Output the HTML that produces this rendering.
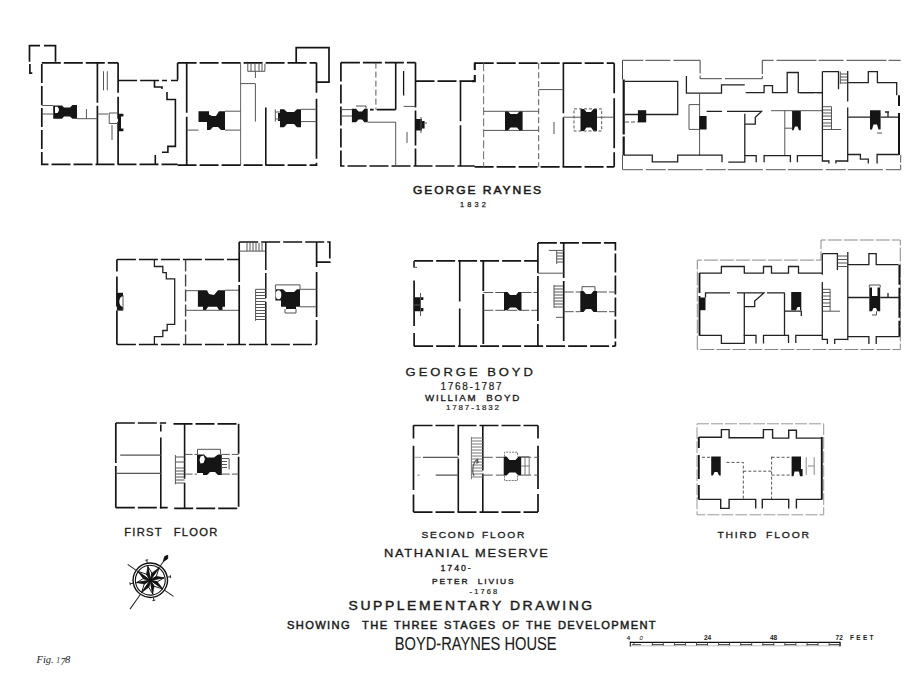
<!DOCTYPE html>
<html><head><meta charset="utf-8">
<style>
html,body{margin:0;padding:0;background:#fff;width:924px;height:685px;overflow:hidden}
svg{display:block}
text{font-family:"Liberation Sans",sans-serif;fill:#1a1a1a}
.w{stroke:#151515;stroke-width:1.7;fill:none;stroke-dasharray:19 3}
.ws{stroke:#151515;stroke-width:1.7;fill:none}
.t{stroke:#555;stroke-width:1;fill:none}
.td{stroke:#555;stroke-width:1;fill:none;stroke-dasharray:6 3}
.c{fill:#151515;stroke:none}
.th{stroke:#222;stroke-width:1.3;fill:none}
.thd{stroke:#444;stroke-width:1;fill:none;stroke-dasharray:8 2}
</style></head>
<body>
<svg width="924" height="685" viewBox="0 0 924 685">
<g id="texts">
<text x="413" y="193.6" font-size="11.2" letter-spacing="1.8" textLength="130.1" lengthAdjust="spacingAndGlyphs" style="stroke:#1a1a1a;stroke-width:0.5">GEORGE RAYNES</text>
<text x="460" y="206.6" font-size="7.4" letter-spacing="2.6" textLength="28.5" lengthAdjust="spacing" style="stroke:#1a1a1a;stroke-width:0.25">1832</text>
<text x="405.6" y="375.7" font-size="11.3" letter-spacing="2.6" textLength="130.3" lengthAdjust="spacingAndGlyphs" style="stroke:#1a1a1a;stroke-width:0.28">GEORGE BOYD</text>
<text x="440.6" y="390" font-size="10" letter-spacing="2" textLength="63" lengthAdjust="spacing" style="stroke:#1a1a1a;stroke-width:0.2">1768-1787</text>
<text x="425" y="401.3" font-size="8.2" letter-spacing="1.5" xml:space="preserve" textLength="96" lengthAdjust="spacingAndGlyphs" style="stroke:#1a1a1a;stroke-width:0.3">WILLIAM  BOYD</text>
<text x="446" y="410.2" font-size="8" letter-spacing="2" textLength="55" lengthAdjust="spacing" style="stroke:#1a1a1a;stroke-width:0.2">1787-1832</text>
<text x="124.2" y="535.6" font-size="10.5" letter-spacing="1.2" word-spacing="1" xml:space="preserve" textLength="94.5" lengthAdjust="spacingAndGlyphs" style="stroke:#1a1a1a;stroke-width:0.3">FIRST  FLOOR</text>
<text x="421.5" y="537.7" font-size="9.2" letter-spacing="1.6" word-spacing="1.5" xml:space="preserve" textLength="104.6" lengthAdjust="spacingAndGlyphs" style="stroke:#1a1a1a;stroke-width:0.3">SECOND FLOOR</text>
<text x="717.4" y="538.3" font-size="9.3" letter-spacing="1.6" word-spacing="3" xml:space="preserve" textLength="93.5" lengthAdjust="spacingAndGlyphs" style="stroke:#1a1a1a;stroke-width:0.3">THIRD FLOOR</text>
<text x="384" y="557" font-size="10.8" letter-spacing="1.4" textLength="165.5" lengthAdjust="spacingAndGlyphs" style="stroke:#1a1a1a;stroke-width:0.28">NATHANIAL MESERVE</text>
<text x="440.6" y="570.8" font-size="8.8" letter-spacing="2.5" textLength="32.5" lengthAdjust="spacing" style="stroke:#1a1a1a;stroke-width:0.35">1740-</text>
<text x="432" y="583.6" font-size="7.3" letter-spacing="1.6" xml:space="preserve" textLength="83.5" lengthAdjust="spacingAndGlyphs" style="stroke:#1a1a1a;stroke-width:0.33">PETER  LIVIUS</text>
<text x="469.6" y="594.1" font-size="7.5" letter-spacing="2" textLength="29.5" lengthAdjust="spacing" style="stroke:#1a1a1a;stroke-width:0.2">-1768</text>
<text x="348.6" y="609.7" font-size="11.9" letter-spacing="2.2" textLength="246.1" lengthAdjust="spacingAndGlyphs" style="stroke:#1a1a1a;stroke-width:0.38">SUPPLEMENTARY DRAWING</text>
<text x="287" y="628.9" font-size="10.8" letter-spacing="1.3" word-spacing="1.2" xml:space="preserve" textLength="370" lengthAdjust="spacingAndGlyphs" style="stroke:#1a1a1a;stroke-width:0.45">SHOWING  THE THREE STAGES OF THE DEVELOPMENT</text>
<text x="394.8" y="649.5" font-size="17.5" textLength="161.7" lengthAdjust="spacingAndGlyphs" style="stroke:#111;stroke-width:0.1">BOYD-RAYNES HOUSE</text>
<text x="36.5" y="663" font-size="10.5" style="font-family:'Liberation Serif',serif;font-style:italic;fill:#222">Fig. <tspan font-size="7.5">1</tspan><tspan font-size="10" dy="2.2" dx="0.3">7</tspan><tspan dy="-2.2" dx="-0.3">8</tspan></text>
<text x="626.8" y="640" font-size="6" font-weight="bold">4</text>
<text x="639.4" y="640" font-size="6" font-style="italic">0</text>
<text x="704" y="640" font-size="6.5" font-weight="bold">24</text>
<text x="770" y="640" font-size="6.5" font-weight="bold">48</text>
<text x="835.6" y="640.2" font-size="6.5" font-weight="bold">72</text>
<text x="850" y="640.2" font-size="6.5" font-weight="bold" textLength="23.6" lengthAdjust="spacing">FEET</text>
</g>
<g id="scalebar">
<line x1="630" y1="642.4" x2="840" y2="642.4" stroke="#111" stroke-width="1.1"/>
<line x1="630" y1="645.8" x2="840" y2="645.8" stroke="#bbb" stroke-width="0.9"/>
<line x1="630.3" y1="641.8" x2="630.3" y2="646.5" stroke="#111" stroke-width="1.1"/>
<line x1="840" y1="641.8" x2="840" y2="646.5" stroke="#111" stroke-width="1.1"/>
<path d="M652.3 644.6H663.3M652.3 642V645.5M663.3 642V645.5M674.4 644.6H685.4M674.4 642V645.5M685.4 642V645.5M696.5 644.6H707.5M696.5 642V645.5M707.5 642V645.5M718.6 644.6H729.6M718.6 642V645.5M729.6 642V645.5M740.7 644.6H751.7M740.7 642V645.5M751.7 642V645.5M762.8 644.6H773.8M762.8 642V645.5M773.8 642V645.5M784.9 644.6H795.9M784.9 642V645.5M795.9 642V645.5M807.0 644.6H818.0M807.0 642V645.5M818.0 642V645.5M829.1 644.6H840.1M829.1 642V645.5M840.1 642V645.5" stroke="#333" stroke-width="0.9" fill="none"/>
<path d="M632 644.6H641M634 643V645" stroke="#444" stroke-width="0.9" fill="none"/>
</g>
<g id="plans">
<g id="p9">
<path class="td" d="M697 423.8H823.7V514.8H697V423.8" style="stroke-dasharray:12 2;stroke:#999"/>
<path class="ws" d="M698.8 436.9V448M698.8 455V479M698.8 485V499.4" style="stroke-width:1.9"/>
<path class="ws" d="M821.8 436.9V499.7" style="stroke-width:1.9"/>
<path class="th" d="M698.8 437.2H721.4V429.6H729.1V437.8H763.4V429.6H772.6V438.1H788.7V430.3H796.4V438.1H821.8" style="stroke-width:1.4"/>
<path class="th" d="M698.8 499.4H720.7V508.4H729.1V499.4H755.7V508.4M762.3 508.4V499.4H788.7V508.4M796.4 508.4V499.4H821.8" style="stroke-width:1.4"/>
<path class="c" d="M711.2 456.6H720.7V475.6H719L717.5 472H714.5L713 475.6H711.2Z"/>
<path class="c" d="M791.6 456.6H801V469H802.6V476.3H800L799 471.5H794.5L793.5 476.3H791.6Z"/>
<path class="t" d="M702 457.3H711M726.5 462.4H743.3V499M743.3 471.2H771.6M771.6 456.6V499M771.6 457.3H791.6M771.6 475.1H791.6" style="stroke-dasharray:3 2;stroke:#555"/>
<path class="t" d="M806.2 457.3V475M814.2 457.3V475M808 466H814" style="stroke:#888"/>
</g>
<g id="p8">
<path class="w" d="M413.5 425.5H538M413.5 512.1H538"/>
<path class="ws" d="M413.5 425.2V438.4M413.5 445.7V490M413.5 494.6V512.1"/>
<path class="ws" d="M538 425.5V438.4M538 445.7V489M538 494V512.1"/>
<path class="ws" d="M458.3 425.5V512.1" style="stroke-width:1.6;stroke-dasharray:30 3 60"/>
<path class="ws" d="M482.8 425.5V512.1" style="stroke-width:1.6;stroke-dasharray:45 3 50"/>
<path class="t" d="M423 457.3H458.3M435.7 475.1H458.3" style="stroke-width:1.2"/>
<path class="t" d="M415 457.3H421M417 475.1H420" style="stroke:#999"/>
<path class="t" d="M471.4 436.9V479.2M471.4 438H482.8M471.4 441H482.8M471.4 444H482.8M471.4 447H482.8M471.4 450H482.8M471.4 453H482.8M471.4 456H482.8M471.4 459H482.8M471.4 462H482.8M471.4 465H482.8M471.4 468H482.8M471.4 471H482.8M471.4 474H482.8M471.4 477H482.8" style="stroke:#777"/>
<path class="t" d="M478 459Q474 461 473 467Q472 472 474 476M478 459L477 463L479 462" style="stroke-width:1.2"/>
<path class="t" d="M482.8 457.3H503.7M521.2 457.3H538M482.8 475.1H503.7M521.2 475.1H538" style="stroke-dasharray:10 3"/>
<path class="c" d="M503.7 456.6H506.5L509.5 460H515.5L518.5 456.6H521.2V475.6H518.5L515.5 472.5H509.5L506.5 475.6H503.7Z"/>
<path class="t" d="M504.5 456.6V452.2H517.5V456.6M504.5 475.6V480.5H517.5V475.6" style="stroke:#777;stroke-dasharray:2 1"/>
<path class="t" d="M521.2 456.6H529.2V475.1M525 457V475M521.2 466H529.2" style="stroke:#777"/>
</g>
<g id="p7">
<path class="w" d="M115.8 423H166.2M173.5 423.8H238.6M115.8 507.7H167.7M174.2 508.4H238.6"/>
<path class="ws" d="M115.8 423V507.7" style="stroke-dasharray:40 3 60"/>
<path class="ws" d="M160.8 424.5V431.5M160.8 437.5V508.4" style="stroke-width:1.6"/>
<path class="ws" d="M184.6 423.8V508.4" style="stroke-width:1.6;stroke-dasharray:55 4 40"/>
<path class="ws" d="M238.6 423.8V508.4" style="stroke-dasharray:30 3 50"/>
<path class="t" d="M120.2 455.1H160.8M115.8 473.4H160.8" style="stroke-width:1.2"/>
<path class="t" d="M175.4 455V484.3M175.4 457H184.6M175.4 462H184.6M175.4 468H184.6M175.4 471H184.6M175.4 474H184.6M175.4 477H184.6M175.4 480H184.6M175.4 483H184.6"/>
<path class="t" d="M184.6 454.4H197M221.8 454.4H238.6M184.6 474.1H197M221.8 474.1H238.6" style="stroke-dasharray:8 2"/>
<path class="c" d="M197 454.4H204L207 457.5H214L218 454.4H221.8V474.9H218L215 472H210L207 474.9H203V473H197Z"/>
<path d="M200.5 456.5L203.5 455.5L205 459L203.5 463L200.5 463.5L199.5 460Z" fill="#fff"/>
<path class="t" d="M197.5 454.4V449.3H220.5V454.4M221.8 458.5H229.1V469.5M221.8 461.5H227M221.8 464.5H227M221.8 467.5H227"/>
</g>
<g id="p6">
<path class="td" d="M697.3 349.5V260.1H821V240H900.3V349.5H697.3" style="stroke-dasharray:14 2;stroke:#888"/>
<path class="ws" d="M699.5 272.9V335.8" style="stroke-width:1.8;stroke-dasharray:20 3 40"/>
<path class="th" d="M699.5 273.2H721.4V266.5H744.3V273.2H763.5V266.5H771.5V273.2H788.5V266.5H798.5V273.2H822.3"/>
<path class="th" d="M705.5 297.5V292.9H730M737 292.9H763.9L754.7 301.1V306.6H744.7M767 292.9H784.8"/>
<path class="c" d="M699.5 297.5H705.5V310.2H699.5Z"/>
<path class="th" d="M744.3 292.9V335.8M784.5 292.9V335.8M784.5 311.2H801.3V316"/>
<path class="c" d="M791.2 292H801.3V310.2H800V307H797.5L796 310.2H791.2Z"/>
<path class="th" d="M699.5 335.4H721.4V343.4H744.3V335.4H756V343.4M763.5 343.4V335.4H788.5V343M795.8 343V335.4H822.3"/>
<path class="th" d="M822.3 253.7V274.7M822.3 282V339.4H827.4V344M834.7 344V339.4H847.8"/>
<path class="th" d="M822.3 253.7H837.4V270.1M847.8 251.9V340.3"/>
<path class="t" d="M837.4 256H847.4M837.4 259.5H847.4M837.4 263H847.4M837.4 266.5H847.4"/>
<path class="t" d="M822.8 289.3H830.1V311.2M822.8 311.2H840M822.8 292.5H830.1M822.8 296H830.1M822.8 299.5H830.1M822.8 303H830.1M822.8 306.5H830.1"/>
<path class="th" d="M847.8 264.7H868.9V253.7H876.2V264.7H898.5"/>
<path class="ws" d="M899.4 264.7V336.7" style="stroke-width:1.9;stroke-dasharray:20 3 30 3 50"/>
<path class="c" d="M869.3 287.5H872V296H877.5V287.5H880.2V311.2H877.5L876 308H873.5L872 311.2H869.3Z"/>
<path class="t" d="M869.3 287.5V285H880.2V287.5M876.5 311.2V315H872"/>
<path class="th" d="M847.8 297.5H869.3M880.2 297.5H899.4M888 293V297.5"/>
<path class="th" d="M847.8 336.7H868.9V344M876.2 344V336.7H899.4"/>
</g>
<g id="p5">
<path class="w" d="M414.1 260.9H537.9M414.1 346.2H615.4"/>
<path class="ws" d="M414.1 260.9V267.4M414.1 280.5V326M414.1 333V346.2"/>
<path class="t" d="M414.1 260.9V267.4H417" />
<path class="ws" d="M459.7 260.9V301.5M459.7 308.5V346.2" style="stroke-width:1.6"/>
<path class="ws" d="M483.3 260.9V346.2" style="stroke-width:1.8;stroke-dasharray:30 3 50"/>
<path class="t" d="M483.3 292.5H504M521.5 292.5H537.9M483.3 310.3H537.9" style="stroke-dasharray:10 2"/>
<path class="c" d="M504 292H507.5L510 295H516L518.5 292H521.5V310.3H518.5L516 307.5H510L507.5 310.3H504Z"/>
<path class="c" d="M414.1 297.2H423.4V300H420V308H423.4V311.2H414.1Z"/>
<path class="t" d="M420.5 293V316M414.1 305H421"/>
<path class="ws" d="M537.9 242.9V346.2" style="stroke-dasharray:30 3 45 3 40"/>
<path class="w" d="M537.9 242.9H615.4V346.2"/>
<path class="ws" d="M563.7 242.9V346.2" style="stroke-width:1.7;stroke-dasharray:35 3 60"/>
<path class="t" d="M537.9 273.2H563.7M548.8 250.4H563.7M556.7 250.4V263.9M556.7 253H563M556.7 256H563M556.7 259H563M556.7 262H563"/>
<path class="t" d="M554 285V307.7M554 286H562.8M554 289H562.8M554 292H562.8M554 295H562.8M554 298H562.8M554 301H562.8M554 304H562.8M554 307H562.8M556 317.3H562.8"/>
<path class="t" d="M563.7 292H580.3M597 292H615.4M563.7 311.7H580.3M597 311.7H615.4" style="stroke-dasharray:10 2"/>
<path class="c" d="M580.3 291H583.5L586 294H591L593.5 291H597V312.1H593.5L591 309H586L583.5 312.1H580.3Z"/>
<path class="t" d="M582 291V286.7H595V291"/>
</g>
<g id="p4">
<path class="w" d="M116.9 259.5H239.2M116.9 344.5H316.6"/>
<path class="ws" d="M116.9 259.5V344.5" style="stroke-dasharray:12 5 30 4 40"/>
<path class="th" d="M154.4 259.5V266.5H162.8V272.7H166.3V278.8H174.7V324.3H167.2V330.5H162.8V336.6H154.4V344.5"/>
<path class="td" d="M185.6 259.5V344.5" style="stroke-width:1.4;stroke:#444;stroke-dasharray:12 3"/>
<path class="c" d="M116.9 292.8H123V310.3H116.9Z"/>
<ellipse cx="123.5" cy="301.5" rx="4.2" ry="5.5" fill="#fff"/>
<path class="t" d="M123 295V310.3M116.9 310.3H123"/>
<path class="c" d="M197.9 290.2H207L209 294L214 295L218 290.2H225V306.8H222.5V310H219L217 306.8H208L206 310H203V306.8H197.9Z"/>
<path class="t" d="M185.6 290.7H197.9M185.6 310.3H239.2M225 290.2H239.2"/>
<path class="ws" d="M239.2 242V344.5" style="stroke-dasharray:40 3 60"/>
<path class="w" d="M239.2 242H329.8V262.2H316.6"/>
<path class="ws" d="M316.6 242V344.5" style="stroke-dasharray:25 5 45 3 40"/>
<path class="t" d="M239.2 251.1H265.8M247 243V251M250 243V251M253 243V251M256 243V251M259 243V251M262 243V251"/>
<path class="ws" d="M265.8 242V344.5" style="stroke-width:1.5;stroke-dasharray:28 3 25 4 45"/>
<path class="t" d="M255.6 289.3V320.8M255.6 289.3H265.8M255.6 292.5H265.8M255.6 295.5H265.8M255.6 298.5H265.8M255.6 301.5H265.8M255.6 304.5H265.8M255.6 307.5H265.8M255.6 310.5H265.8M255.6 313.5H265.8M255.6 316.5H265.8M255.6 319.5H265.8"/>
<path class="c" d="M275.4 289.3H283L286 292H294L297 289.3H300V306.8H296V309H286V306.8H281V300.5H275.4Z"/>
<ellipse cx="278.5" cy="294.8" rx="2.8" ry="4.5" fill="#fff"/>
<path class="t" d="M275.4 289.3V284.9H300V289.3M300 289.3H316.6M300 306.8H316.6M285 309V313H296V309"/>
</g>
<g id="p3">
<path d="M622.5 79.5V60.3H700.1V78.7H762.3V60.3H900.7" style="fill:none;stroke:#444;stroke-width:1;stroke-dasharray:40 2 25 3"/>
<path d="M622.5 155V169.7H900.7V155" style="fill:none;stroke:#555;stroke-width:1;stroke-dasharray:35 3 20 2"/>
<path class="ws" d="M623.7 79.5V155.2" style="stroke-width:2.2;stroke-dasharray:55 2 70"/>
<path class="th" d="M625 81.3H677.7V114.5H625"/>
<path class="c" d="M637.9 110.2H646.2V122.4H637.9Z"/>
<path class="t" d="M625 122H637.9" style="stroke-dasharray:4 2"/>
<path class="th" d="M686.4 76V93.2H721.5V84.8H744.8M745.7 92.7H764.1V85.7H772.5V92.7H787.2V72.5H798.3V92.7H822.4"/>
<path class="t" d="M699.6 93.2V155.7"/>
<path class="t" d="M689 104.6H699.6M689 104.6V129.4H699.6"/>
<path class="c" d="M699.3 116H706.6V129.5H699.3Z"/>
<path class="th" d="M706.6 111.4H722M727 111.4H761.5L755.3 117.2V124.2H744.8V113.7M744.8 124.2V155.7"/>
<path class="t" d="M771.1 110.7H822.4M784.8 110.7V155.7M784.8 128.2H792.1"/>
<path class="c" d="M792.1 111H800.8V130.3H799L797.5 126.5H795L793.5 130.3H792.1Z"/>
<path class="th" d="M623.7 155.2H652.3V161.8H677.7V155.2H722V162.2M728.2 162.2H744.8V155.7H756.2V162.2M764.1 162.2V155.7H790.4V162.2M797.4 162.2V155.7H822.4"/>
<path class="th" d="M822.4 71.6V161H828.9V163.6M835.9 163.6V161H847.3"/>
<path class="th" d="M822.4 71.6H838.5V89.2M847.7 71.1V101.4M847.7 107.6V161.9"/>
<path class="t" d="M840.3 71.6V83.9M847.3 74H840.3M847.3 77H840.3M847.3 80H840.3M847.3 83H840.3"/>
<path class="th" d="M800 92.7H822.4" style="stroke-dasharray:14 3"/>
<path class="t" d="M822.8 106.7H831.5V129.5M822.8 129.5H841.2M822.8 110H831.5M822.8 113H831.5M822.8 116H831.5M822.8 119.5H831.5M822.8 123H831.5M822.8 126H831.5"/>
<path class="th" d="M848.2 82.7H868.3V71.6H877.4V82.7H896.7V95.3"/>
<path class="ws" d="M899 95.3V106M899 113V154.9" style="stroke-width:2"/>
<path class="c" d="M870 110.2H880.6V129.5H878.5L877 124.5H873.5L872 129.5H870Z"/>
<path class="th" d="M848.2 117.2H870M880.6 117.2H898.1M888 112V117M885 112H889"/>
<path class="th" d="M847.7 154.5H860.4V159.2H868.3V163.6M877.1 163.6V154.5H899"/>
<path class="t" d="M877 133H882"/>
</g>
<g id="p2">
<path class="w" d="M340.9 62.6H415.5"/>
<path class="w" d="M340.9 62.6V166H474.7"/>
<path class="ws" d="M395.7 62.6V109.6" style="stroke-width:1.6"/>
<path class="td" d="M375.9 62.6V109.6"/>
<path class="w" d="M395.7 109.6H370" style="stroke-width:1.6"/>
<path class="ws" d="M415.5 62.6V166" style="stroke-dasharray:45 3 35 3 30"/>
<path class="w" d="M415.5 81.2H474.7"/>
<path class="ws" d="M460.5 81.2V166" style="stroke-width:1.6;stroke-dasharray:40 4 50"/>
<path class="ws" d="M474.8 62.6V70M474.8 75V81.2H472" style="stroke-width:2.1"/>
<path class="c" d="M351.9 108.7H356L358.5 111.5H362L364.5 108.7H367.7V122.2H364.5L362 119.5H358.5L356 122.2H351.9Z"/>
<path class="t" d="M340.9 116H352M367.7 122.2H395.7M340.9 109.6H352M356 106H366V108.7"/>
<path class="t" d="M395.7 122.2V166" style="stroke:#555"/>
<path class="ws" d="M403.6 71V95.5" style="stroke-width:1.3"/>
<path class="t" d="M403.6 106.4H415.5M407 132V143"/>
<path class="c" d="M415.9 119H422V121H424.6V128.5H422V130.6H415.9Z"/>
<path class="t" d="M421 117V133M424.6 123H427"/>
<path class="w" d="M474.7 63.2H614.2"/>
<path class="w" d="M474.6 166.8H614.2"/>
<path class="td" d="M483.6 63.2V166.8" style="stroke:#777;stroke-width:1.1;stroke-dasharray:8 3"/>
<path class="td" d="M538.7 63.2V166.8"/>
<path class="ws" d="M563.4 63.2V166.8" style="stroke-width:1.6;stroke-dasharray:50 4 60"/>
<path class="ws" d="M614.2 63.2V166.8" style="stroke-dasharray:30 5 50 4 30"/>
<path class="t" d="M483.6 111.3H538.7M483.6 130.4H538.7M538.7 89.6H563.4M563.4 117.2H614.2"/>
<path class="c" d="M505 111.6H508L510.5 114H517L519.5 111.6H522.6V130.4H519.5L517 127.5H510.5L508 130.4H505Z"/>
<path class="c" d="M580.5 108.9H584L586.5 112H591L593.5 108.9H597V131H593.5L591 127.5H586.5L584 131H580.5Z"/>
<path class="td" d="M574 108.9H601.7V131H574Z" style="stroke-dasharray:3 2"/>
<path class="t" d="M554 122V134"/>
</g>
<g id="p1">
<!-- appendage -->
<path class="ws" d="M29.5 61.8V45.7H40M44 45.7H55.5V61.8"/>
<path class="ws" d="M29.9 64V73.2H32.3"/>
<!-- main left block -->
<path class="w" d="M41.8 62.8H118.1"/>
<path class="w" d="M41.8 64V164.3H177.6"/>
<path class="ws" d="M97.4 62.8V164.3" style="stroke-dasharray:40 3 60 3"/>
<path class="ws" d="M118.1 62.8V164.3" style="stroke-dasharray:30 4 22 3 50"/>
<path class="t" d="M103.5 71.3V90.3M107.3 71.3V90.3"/>
<path class="w" d="M118.1 80.5H167M171 80.5H178"/>
<path class="ws" d="M154.5 80.5V87H162V89M167 91.9V99.5H175.4V146.4H167.9V152.3H162M155.3 155V165" style="stroke-width:1.6"/>
<path class="c" d="M53.2 105.5H62L64 107.5H70L72.5 105H77V118.7H72.5L70 116.5H64L62 118.7H53.2Z"/>
<path d="M55 106.8H57.5Q60.5 109.5 57.5 113H55Z" fill="#fff"/>
<path class="t" d="M41.8 105.5H53.2M41.8 114H53.2M77 118.7H97.4M86.4 109V118.7M97.4 114H108"/>
<path class="c" d="M118 113.7H123.4V116.5H121V128.5H123.4V131.3H118Z"/>
<path class="t" d="M109.2 113H117.7M109.2 113V123.5H117.7M112 125V140"/>
<!-- second block -->
<path class="w" d="M177.6 62.8H316.5"/>
<path class="ws" d="M177.6 62.8V79.8"/>
<path class="ws" d="M186.7 62.8V165.2" style="stroke-dasharray:50 4 60"/>
<path class="t" d="M240.6 62.8V165.2" style="stroke:#666"/>
<path class="t" d="M247.8 63.7V71.3H264.9V63.7M251 64V71M255 64V71M259 64V71M262 64V71"/>
<path class="t" d="M240.6 83.6H255.4V121.6M255.4 71.3V78"/>
<path class="ws" d="M265.8 107.4V165.2" style="stroke-width:1.6"/>
<path class="ws" d="M316.5 62.8V166" style="stroke-dasharray:30 6 60 4"/>
<path class="ws" d="M296.2 62.8V47.6H329V82.1H316.5"/>
<path class="w" d="M177.6 165.2H316.5"/>
<path class="c" d="M198.5 111.2H209V114.5L212 116H216L219 111.2H225V130.1H221L218 127H213L210 130.1H207V122H198.5Z"/>
<path class="t" d="M225 111.2H240.6M186.7 130.1H198.5M225 130.1H240.6"/>
<path class="c" d="M280 109.3H284L287 112H294L297 109.3H301V127.3H297L294 124H287L284 127.3H280V121H278V113H280Z"/>
<path class="t" d="M301 109.3H316.5M301 121.6H316.5M275.3 109.3V121.6M275.3 112H280M275.3 119H280"/>
</g>
</g>
<g id="compass">
<g id="cmp" transform="translate(150.3 580.2) rotate(-10)">
<circle r="17.2" fill="none" stroke="#111" stroke-width="1.4"/>
<circle r="14.9" fill="none" stroke="#111" stroke-width="1.1"/>
<path d="M-19.5 -19.5L-12.2 -12.2M12.2 12.2L20 20M-12.3 12.3L-25 25M12.3 -12.3L17 -17" stroke="#222" stroke-width="1" fill="none"/>
<path d="M16.2 -16.2L18.2 -20.8L21.5 -21.5L20.8 -18.2Z" fill="#111" stroke="#111" stroke-width="0.9"/>
<path d="M0 -17.5V-20.5M17.5 0H20.5M0 17.5V20.5M-17.5 0H-20.5M-1.5 -20.5H1.5M20.5 -1.5V1.5M-1.5 20.5H1.5M-20.5 -1.5V1.5" fill="none" stroke="#222" stroke-width="0.9"/>
<path d="M0 0L0.00 -14.00L2.76 -6.65ZM0 0L10.89 -10.89L6.65 -2.76ZM0 0L14.00 -0.00L6.65 2.76ZM0 0L10.89 10.89L2.76 6.65ZM0 0L0.00 14.00L-2.76 6.65ZM0 0L-10.89 10.89L-6.65 2.76ZM0 0L-14.00 0.00L-6.65 -2.76ZM0 0L-10.89 -10.89L-2.76 -6.65Z" fill="#fff" stroke="#111" stroke-width="0.9" stroke-linejoin="round"/>
<path d="M0 0L0.00 -14.00L-2.76 -6.65ZM0 0L10.89 -10.89L2.76 -6.65ZM0 0L14.00 -0.00L6.65 -2.76ZM0 0L10.89 10.89L6.65 2.76ZM0 0L0.00 14.00L2.76 6.65ZM0 0L-10.89 10.89L-2.76 6.65ZM0 0L-14.00 0.00L-6.65 2.76ZM0 0L-10.89 -10.89L-6.65 -2.76Z" fill="#111" stroke="#111" stroke-width="0.5"/>
</g>
</g>
</svg>
</body></html>
